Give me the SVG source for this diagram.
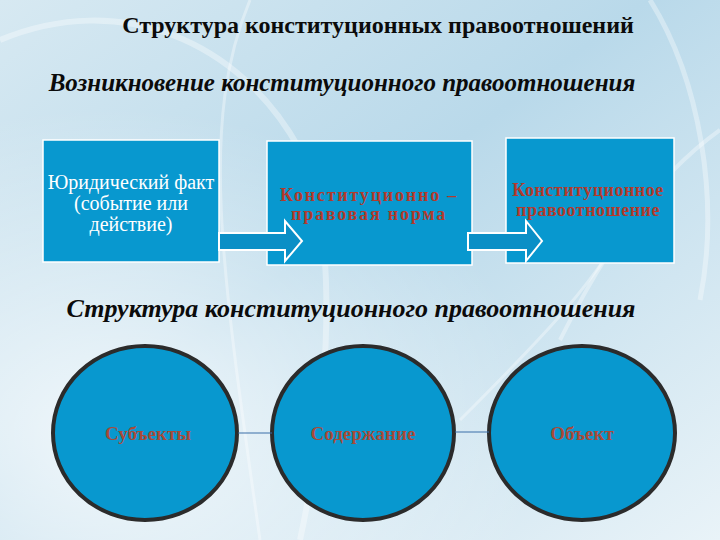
<svg xmlns="http://www.w3.org/2000/svg" width="720" height="540" viewBox="0 0 720 540">
<defs>
<linearGradient id="bg" x1="0" y1="0" x2="1" y2="1">
<stop offset="0" stop-color="#d7e9f2"/>
<stop offset="0.45" stop-color="#b9d9ea"/>
<stop offset="1" stop-color="#e9f3f8"/>
</linearGradient>
<radialGradient id="glow" cx="0.15" cy="0.8" r="0.6">
<stop offset="0" stop-color="#ffffff" stop-opacity="0.8"/>
<stop offset="1" stop-color="#ffffff" stop-opacity="0"/>
</radialGradient>
<style>
.box{fill:#0898cf;stroke:#ffffff;stroke-width:1.5}
.circ{fill:#0898cf;stroke:#2b2b2b;stroke-width:4}
.arrow{fill:#0a8fc6;stroke:#ffffff;stroke-width:2}
text{font-family:"Liberation Serif","DejaVu Serif",serif}
.h1{font-weight:bold;font-size:24px;fill:#0b0b0b}
.h2{font-weight:bold;font-style:italic;font-size:25px;fill:#0b0b0b}
.h3{font-weight:bold;font-style:italic;font-size:26px;fill:#0b0b0b}
.wt{font-size:20px;fill:#ffffff}
.rt{font-weight:bold;font-size:18px;fill:#b23a2c;letter-spacing:1.8px}
.rt3{font-weight:bold;font-size:18px;fill:#b23a2c;letter-spacing:0.5px}
.ct{font-weight:bold;font-size:19px;fill:#a84a38}
.conn{stroke:#3a6fa8;stroke-width:1;fill:none}
.swirl{fill:none;stroke:#ffffff;stroke-opacity:0.35}
</style>
</defs>
<g id="background">
<rect width="720" height="540" fill="url(#bg)"/>
<rect width="720" height="540" fill="url(#glow)"/>
<path class="swirl" stroke-width="6" d="M0 40 C120 -10 240 40 300 150 C340 230 330 400 300 540"/>
<path class="swirl" stroke-width="3" d="M250 0 C200 120 220 260 260 540"/>
<path class="swirl" stroke-width="4" d="M560 340 C600 260 650 180 720 130"/>
<path class="swirl" stroke-width="3" d="M460 420 C540 340 600 280 640 200"/>
<path class="swirl" stroke-width="5" d="M650 0 C700 80 720 200 700 300"/>
</g>
<g id="titles">
<text class="h1" x="378" y="33" text-anchor="middle">Структура конституционных правоотношений</text>
<text class="h2" x="342" y="91" text-anchor="middle">Возникновение конституционного правоотношения</text>
<text class="h3" x="351" y="317" text-anchor="middle">Структура конституционного правоотношения</text>
</g>
<g id="node-fact">
<rect class="box" x="43" y="140" width="176" height="122"/>
<text class="wt" x="131" y="189" text-anchor="middle">Юридический факт</text>
<text class="wt" x="131" y="210" text-anchor="middle">(событие или</text>
<text class="wt" x="131" y="231" text-anchor="middle">действие)</text>
</g>
<g id="node-norm">
<rect class="box" x="267" y="141" width="205" height="124"/>
<text class="rt" x="369" y="201" text-anchor="middle">Конституционно –</text>
<text class="rt" x="369" y="220" text-anchor="middle">правовая норма</text>
</g>
<g id="node-relation">
<rect class="box" x="506" y="138" width="168" height="125"/>
<text class="rt3" x="588" y="196" text-anchor="middle">Конституционное</text>
<text class="rt3" x="588" y="216" text-anchor="middle">правоотношение</text>
</g>
<g id="node-subjects">
<ellipse class="circ" cx="145" cy="433" rx="92" ry="87"/>
<text class="ct" x="148" y="440" text-anchor="middle">Субъекты</text>
</g>
<g id="node-content">
<ellipse class="circ" cx="363" cy="433" rx="91" ry="87"/>
<text class="ct" x="363" y="440" text-anchor="middle">Содержание</text>
</g>
<g id="node-object">
<ellipse class="circ" cx="582" cy="433" rx="93" ry="87"/>
<text class="ct" x="582" y="440" text-anchor="middle">Объект</text>
</g>
<g id="connectors">
<path class="arrow" d="M219 233 H285 V221 L302 241 L285 261 V250 H219 Z"/>
<path class="arrow" d="M468 233 H526 V221 L542 241 L526 261 V250 H468 Z"/>
<line class="conn" x1="238" y1="433" x2="272" y2="433"/>
<line class="conn" x1="455" y1="432" x2="489" y2="432"/>
</g>
</svg>
